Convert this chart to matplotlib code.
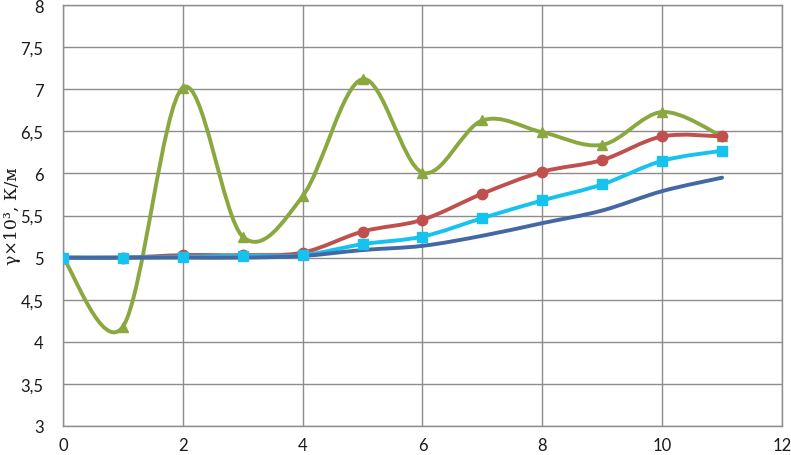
import matplotlib
matplotlib.use("Agg")
import matplotlib.pyplot as plt
from matplotlib.path import Path
from matplotlib.patches import PathPatch
from matplotlib.ticker import FuncFormatter, MultipleLocator


# --------------------------------------------------
# Data
# --------------------------------------------------
x_vals = [0, 1, 2, 3, 4, 5, 6, 7, 8, 9, 10, 11]

blue_vals = [5.0, 5.0, 5.0, 5.0, 5.02, 5.09, 5.14, 5.26, 5.41, 5.56, 5.79, 5.95]
red_vals = [5.0, 5.0, 5.03, 5.03, 5.06, 5.31, 5.45, 5.76, 6.02, 6.16, 6.44, 6.44]
cyan_vals = [5.0, 5.0, 5.01, 5.02, 5.03, 5.16, 5.25, 5.47, 5.68, 5.87, 6.15, 6.27]
green_vals = [5.0, 4.18, 7.02, 5.25, 5.73, 7.12, 6.01, 6.63, 6.49, 6.34, 6.73, 6.44]


# --------------------------------------------------
# Excel-like smoothed line (Catmull-Rom as Bezier)
# --------------------------------------------------
def smooth_path(xs, ys):
    pts = list(zip(xs, ys))
    verts = [pts[0]]
    codes = [Path.MOVETO]
    n = len(pts)
    for i in range(n - 1):
        p0 = pts[i - 1] if i > 0 else pts[i]
        p1 = pts[i]
        p2 = pts[i + 1]
        p3 = pts[i + 2] if i + 2 < n else pts[i + 1]
        c1 = (p1[0] + (p2[0] - p0[0]) / 6, p1[1] + (p2[1] - p0[1]) / 6)
        c2 = (p2[0] - (p3[0] - p1[0]) / 6, p2[1] - (p3[1] - p1[1]) / 6)
        verts += [c1, c2, p2]
        codes += [Path.CURVE4] * 3
    return Path(verts, codes)


def draw_series(ax, xs, ys, color, marker, msize, z):
    patch = PathPatch(
        smooth_path(xs, ys),
        fill=False,
        edgecolor=color,
        linewidth=2.8,
        capstyle="round",
        joinstyle="round",
        zorder=z
    )
    ax.add_patch(patch)
    if marker is not None:
        ax.plot(
            xs, ys,
            linestyle="none",
            marker=marker,
            markersize=msize,
            color=color,
            zorder=z + 10
        )


# --------------------------------------------------
# Plot
# --------------------------------------------------
plt.rcParams["font.family"] = ["Lato", "DejaVu Sans"]

fig = plt.figure(figsize=(7.91, 4.56), dpi=100)
ax = fig.add_axes([0.0796, 0.0636, 0.909, 0.923])

draw_series(ax, x_vals, green_vals, "#8AA83F", "^", 7, 3)
draw_series(ax, x_vals, red_vals, "#C0504D", "o", 7.5, 4)
draw_series(ax, x_vals, cyan_vals, "#16C2EE", "s", 7, 5)
draw_series(ax, x_vals, blue_vals, "#4468A4", None, 0, 6)

ax.set_xlim(0, 12)
ax.set_ylim(3, 8)
ax.xaxis.set_major_locator(MultipleLocator(2))
ax.yaxis.set_major_locator(MultipleLocator(0.5))

ax.yaxis.set_major_formatter(
    FuncFormatter(lambda v, p: ("%g" % v).replace(".", ","))
)

ax.grid(True, color="#8C8C8C", linewidth=1.0)
ax.set_axisbelow(True)
for side in ["left", "right", "top", "bottom"]:
    ax.spines[side].set_color("#8C8C8C")
    ax.spines[side].set_linewidth(1.0)

ax.tick_params(length=0, labelsize=12, colors="#1A1A1A", pad=8)
ax.tick_params(axis="y", pad=14)

ax.set_ylabel("γ×10³, К/м", fontsize=12.5, color="#1A1A1A", labelpad=0,
              family=["DejaVu Serif", "DejaVu Sans"])

fig.savefig("out.png", dpi=100, facecolor="white")
plt.close(fig)
